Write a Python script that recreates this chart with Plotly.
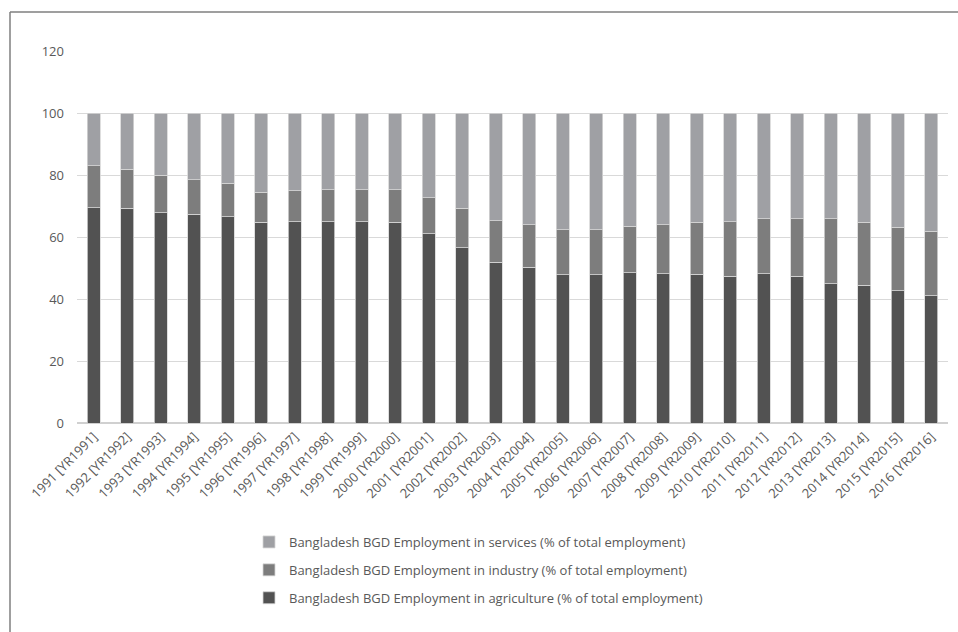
import plotly.graph_objects as go

# Bangladesh employment shares by sector, % of total employment
years = [
    "1991 [YR1991]", "1992 [YR1992]", "1993 [YR1993]", "1994 [YR1994]",
    "1995 [YR1995]", "1996 [YR1996]", "1997 [YR1997]", "1998 [YR1998]",
    "1999 [YR1999]", "2000 [YR2000]", "2001 [YR2001]", "2002 [YR2002]",
    "2003 [YR2003]", "2004 [YR2004]", "2005 [YR2005]", "2006 [YR2006]",
    "2007 [YR2007]", "2008 [YR2008]", "2009 [YR2009]", "2010 [YR2010]",
    "2011 [YR2011]", "2012 [YR2012]", "2013 [YR2013]", "2014 [YR2014]",
    "2015 [YR2015]", "2016 [YR2016]",
]
agriculture = [
    69.5, 69.2, 67.9, 67.4, 66.6, 64.8, 65.0, 65.0, 65.0, 64.8,
    61.1, 56.6, 51.9, 50.2, 47.9, 47.9, 48.4, 48.2, 48.0, 47.3,
    48.2, 47.3, 45.0, 44.4, 42.6, 41.1,
]
industry = [
    13.5, 12.7, 12.1, 11.1, 10.7, 9.7, 10.0, 10.3, 10.3, 10.5,
    11.6, 12.7, 13.4, 13.8, 14.4, 14.4, 15.0, 15.8, 16.7, 17.7,
    17.7, 18.6, 20.9, 20.3, 20.5, 20.8,
]
services = [round(100 - a - i, 1) for a, i in zip(agriculture, industry)]

y_ticks = [0, 20, 40, 60, 80, 100, 120]

# stacked bottom to top; legend lists them top to bottom
series = [
    ("Bangladesh BGD Employment in agriculture (% of total employment)", agriculture, "#525252"),
    ("Bangladesh BGD Employment in industry (% of total employment)", industry, "#7d7d7d"),
    ("Bangladesh BGD Employment in services (% of total employment)", services, "#9fa0a4"),
]

FONT = "Open Sans"
TEXT_GREY = "#595959"

fig = go.Figure()
for idx, (name, vals, color) in enumerate(series):
    fig.add_trace(go.Bar(
        x=years, y=vals, name=name, legendgroup=f"g{idx}",
        legendrank=100 - idx,
        marker=dict(color=color, line=dict(color="#d6d6d6", width=0.8)),
    ))

# plot-area geometry in pixels (958 x 632 page)
W, H = 958, 632
L, R, T, B = 77, 10, 51, 209
pw, ph = W - L - R, H - T - B

def px_x(px):
    return (px - L) / pw

def px_y(py):
    return (H - B - py) / ph

# chart frame: top and left edges
frame = dict(color="#7f7f7f", width=1.5)
fig.add_shape(type="line", xref="paper", yref="paper",
              x0=px_x(10), x1=px_x(975), y0=px_y(12), y1=px_y(12), line=frame)
fig.add_shape(type="line", xref="paper", yref="paper",
              x0=px_x(10), x1=px_x(10), y0=px_y(12), y1=px_y(650), line=frame)

# chart title, sitting right at the top edge of the page
fig.add_annotation(
    text="<b>Bangladesh Employment by Sector</b>",
    xref="paper", yref="paper", x=px_x(462), y=px_y(3),
    xanchor="center", yanchor="bottom", showarrow=False,
    font=dict(family=FONT, size=17, color="#222222"),
)

fig.update_layout(
    width=W, height=H,
    margin=dict(l=L, r=R, t=T, b=B),
    paper_bgcolor="white", plot_bgcolor="white",
    barmode="stack", bargap=0.6,
    font=dict(family=FONT, size=12, color=TEXT_GREY),
    xaxis=dict(
        tickangle=-45, showgrid=False, showline=True, linecolor="#d0d0d0",
        linewidth=1, ticks="", tickfont=dict(size=13, color=TEXT_GREY),
    ),
    yaxis=dict(
        range=[0, 120], tickvals=y_ticks, showgrid=True, gridcolor="#d9d9d9",
        gridwidth=1, zeroline=True, zerolinecolor="#d0d0d0", ticks="",
        ticklabelstandoff=12, tickfont=dict(size=13, color=TEXT_GREY),
    ),
    legend=dict(
        orientation="v", traceorder="grouped", tracegroupgap=8,
        x=px_x(249), xanchor="left", y=px_y(527), yanchor="top",
        font=dict(size=13, color=TEXT_GREY), bgcolor="rgba(0,0,0,0)",
    ),
    showlegend=True,
)

fig.write_html("out.html")
